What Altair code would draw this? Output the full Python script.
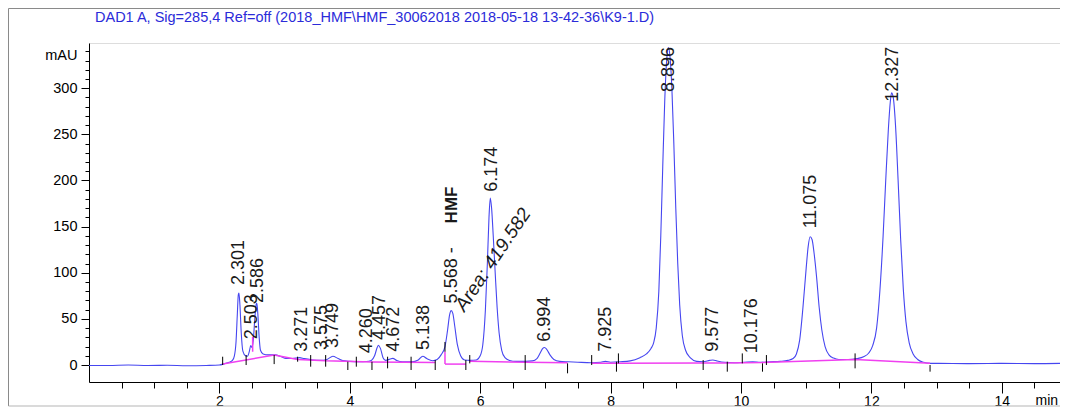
import altair as alt
import pandas as pd

# ---------------- data ----------------
trace_t = [0.0, 0.3, 0.6, 0.9, 1.2, 1.5, 1.8, 2.0, 2.08, 2.15, 2.20, 2.23, 2.255, 2.275, 2.29, 2.30,
           2.315, 2.335, 2.36, 2.40, 2.43, 2.46, 2.48, 2.50, 2.52, 2.545, 2.565, 2.575, 2.59, 2.61,
           2.63, 2.67, 2.75, 2.85, 2.95, 3.02, 3.12, 3.23, 3.30, 3.43, 3.55, 3.65, 3.74, 3.82, 3.89,
           4.0, 4.15, 4.25, 4.33, 4.38, 4.42, 4.44, 4.47, 4.51, 4.55, 4.62, 4.66, 4.72, 4.81, 4.95,
           5.05, 5.12, 5.18, 5.27, 5.34, 5.40, 5.46, 5.50, 5.53, 5.555, 5.58, 5.61, 5.65, 5.70, 5.76,
           5.85, 5.94, 6.00, 6.04, 6.08, 6.11, 6.135, 6.155, 6.175, 6.20, 6.23, 6.26, 6.29, 6.33,
           6.38, 6.45, 6.55, 6.70, 6.80, 6.87, 6.92, 6.96, 6.985, 7.02, 7.07, 7.13, 7.22, 7.35, 7.5,
           7.7, 7.85, 7.92, 8.0, 8.15, 8.3, 8.45, 8.55, 8.62, 8.66, 8.70, 8.74, 8.77, 8.80, 8.83,
           8.86, 8.885, 8.91, 8.94, 8.97, 9.00, 9.03, 9.06, 9.10, 9.15, 9.22, 9.32, 9.42, 9.52, 9.57,
           9.63, 9.75, 9.9, 10.05, 10.18, 10.3, 10.45, 10.6, 10.72, 10.80, 10.85, 10.90, 10.95, 11.00,
           11.03, 11.06, 11.09, 11.12, 11.16, 11.20, 11.24, 11.29, 11.35, 11.42, 11.5, 11.65, 11.78,
           11.88, 11.96, 12.02, 12.08, 12.13, 12.18, 12.22, 12.26, 12.29, 12.31, 12.335, 12.37, 12.41,
           12.45, 12.49, 12.53, 12.58, 12.64, 12.71, 12.80, 12.90, 13.0, 13.5, 14.0, 14.5, 14.9]
trace_v = [-0.5, -0.5, 0, -0.5, -0.3, -0.8, -0.5, 0, 1.5, 3, 5, 10, 25, 55, 76, 78,
           65, 35, 15, 10, 9.5, 15, 21, 19, 27, 52, 66, 67, 55, 30,
           16, 12, 11, 11, 9, 7, 7, 8, 7, 5.5, 5, 6, 9.5, 7, 4.8,
           4, 3.6, 3.8, 5, 10, 19, 21.5, 18, 8, 5, 6.5, 7.2, 5, 3.6, 3.5,
           5.5, 9.5, 7, 4.7, 6, 11, 20, 38, 54, 59, 56, 42, 22, 10, 5.5,
           5, 5.5, 10, 22, 60, 110, 160, 181, 170, 140, 100, 62, 35, 16,
           8, 5, 4, 4, 4.5, 7, 13, 18, 19, 17, 11, 6, 4, 3.5, 3,
           2.5, 3, 4, 3, 3.5, 4.5, 8, 12, 18, 24, 40, 80, 140, 215, 285,
           330, 344, 335, 300, 240, 170, 110, 65, 32, 16, 8, 4, 3.5, 5, 5.5,
           4.5, 3, 2.5, 3, 3.5, 3, 3.5, 4, 5, 7, 12, 27, 62, 105,
           128, 139, 136, 122, 95, 62, 38, 20, 11, 7.5, 6, 6, 7,
           9, 13, 21, 40, 80, 140, 200, 255, 285, 295, 290, 260, 200,
           135, 82, 47, 24, 12, 6, 3, 1.8, 1.8, 1.5, 1.8, 1.5, 1.8]

# integration baselines (magenta)
base_seg = ["A", "A", "B", "B", "B", "B", "B", "C", "C", "D", "D", "D",
            "E", "E", "E", "E", "E", "E", "E"]
base_t = [2.05, 2.84, 2.84, 3.20, 3.63, 4.34, 5.31, 5.46, 5.78, 5.84, 6.69, 7.34,
          7.71, 8.10, 9.42, 9.79, 10.33, 11.75, 12.90]
base_v = [1, 10.8, 10.8, 6, 4.5, 3.2, 2.8, 1, 1, 4, 3, 2.5,
          2, 2, 2.2, 2.2, 2.6, 6, 1.8]

# magenta drop lines
drop_t = [2.51, 5.46]
drop_lo = [14.4, 1]
drop_hi = [30.7, 14.4]

# integration event ticks (black)
evt_t = [2.05, 2.41, 2.84, 3.20, 3.40, 3.63, 3.97, 4.10, 4.34, 4.58, 4.94, 5.31, 5.46, 5.78,
         5.84, 6.69, 7.34, 7.71, 8.09, 8.12, 9.42, 9.79, 10.02, 10.33, 10.39, 11.75, 12.90]
evt_lo = [0, 0, 1, 3.6, -1.8, -1.8, -5.4, -1.8, -5.4, -3.6, -5.4, -5.4, 14.4, -5.4,
          1.8, -5.4, -9, 0, -7.2, 1.8, -5.4, -7.2, 1.8, -7.2, 0, -3.6, -7.2]
evt_hi = [9, 10.8, 10.8, 9, 10.8, 10.8, 3.6, 9, 3.6, 9, 9, 5.4, 25, 5.4,
          10.8, 10.8, 1.8, 10.8, 3.6, 12.6, 5.4, 3.6, 12.6, 1.8, 10.8, 12.6, 0]

# peak labels (retention time, height where the label starts)
peak_label = ["2.301", "2.503", "2.586", "3.271", "3.575", "3.749", "4.260", "4.457", "4.672",
              "5.138", "5.568 -", "6.174", "6.994", "7.925", "8.896", "9.577", "10.176",
              "11.075", "12.327"]
peak_rt = [2.301, 2.503, 2.586, 3.271, 3.575, 3.749, 4.260, 4.457, 4.672,
           5.138, 5.568, 6.174, 6.994, 7.925, 8.896, 9.577, 10.176, 11.075, 12.327]
label_v = [86.7, 27.8, 67.2, 14.4, 16.3, 18.4, 12.7, 27.1, 14.4,
           16.3, 66.8, 187.8, 25.2, 14.4, 295.8, 14.4, 12.7, 148.1, 285.3]

hmf_text = ["HMF"]
hmf_t = [5.568]
hmf_v = [153.5]

area_text = ["Area: 419.582"]
area_t = [5.76]
area_v = [57]

title_text = r"DAD1 A, Sig=285,4 Ref=off (2018_HMF\HMF_30062018 2018-05-18 13-42-36\K9-1.D)"

x_ticks = [0.5 * i for i in range(1, 30)]
y_ticks = list(range(0, 341, 10))

# ---------------- chart ----------------
W, H = 971, 339
FONT = "Liberation Sans"
BLUE = "#4646f0"
MAG = "#f040f0"
FRAME = "#8a8a8a"

xs = alt.Scale(domain=[0, 14.893], nice=False, zero=False)
ys = alt.Scale(domain=[-18.4, 349], nice=False, zero=False)

trace_df = pd.DataFrame({"t": trace_t, "v": trace_v})
base_df = pd.DataFrame({"t": base_t, "v": base_v, "seg": base_seg})
drop_df = pd.DataFrame({"t": drop_t, "v": drop_lo, "v2": drop_hi})
evt_df = pd.DataFrame({"t": evt_t, "v": evt_lo, "v2": evt_hi})
lab_df = pd.DataFrame({"t": peak_rt, "v": label_v, "label": peak_label})
hmf_df = pd.DataFrame({"t": hmf_t, "v": hmf_v, "label": hmf_text})
area_df = pd.DataFrame({"t": area_t, "v": area_v, "label": area_text})

x_axis = alt.Axis(
    values=x_ticks,
    labelExpr="datum.value % 2 === 0 ? format(datum.value, 'd') : ''",
    tickSize={"condition": {"test": "datum.value % 2 === 0", "value": 11}, "value": 6},
    labelOverlap=False, labelFlush=False, labelPadding=1,
    title="min", titleX=946, titleY=18, titleAlign="left", titleBaseline="middle",
    titleFontWeight="normal", titleFontSize=14, titleFont=FONT,
    grid=False, domainColor="black", tickColor="black", labelColor="black",
    labelFont=FONT, labelFontSize=14,
)
y_axis = alt.Axis(
    values=y_ticks,
    labelExpr="datum.value % 50 === 0 ? format(datum.value, 'd') : ''",
    tickSize={"condition": {"test": "datum.value % 50 === 0", "value": 8}, "value": 4},
    labelOverlap=False, labelFlush=False, labelPadding=4,
    title="mAU", titleAngle=0, titleX=-12, titleY=12, titleAlign="right",
    titleBaseline="middle", titleFontWeight="normal", titleFontSize=14.5, titleFont=FONT,
    grid=False, domainColor="black", tickColor="black", labelColor="black",
    labelFont=FONT, labelFontSize=14.5,
)

one = alt.Data(values=[{}])
frame_top = alt.Chart(one).mark_rule(color=FRAME, strokeWidth=1).encode(
    x=alt.value(-80.5), x2=alt.value(W), y=alt.value(-34.5))
frame_left = alt.Chart(one).mark_rule(color=FRAME, strokeWidth=1).encode(
    x=alt.value(-80.5), y=alt.value(-34.5), y2=alt.value(363))
frame_bottom = alt.Chart(one).mark_rule(color="#b5b5b5", strokeWidth=1).encode(
    x=alt.value(-80.5), x2=alt.value(W), y=alt.value(363))

title = alt.Chart(alt.Data(values=[{"label": title_text}])).mark_text(
    align="left", baseline="middle", font=FONT, fontSize=14.5, color="#2b2bd9"
).encode(x=alt.value(6), y=alt.value(-25), text="label:N")

trace = alt.Chart(trace_df).mark_line(color=BLUE, strokeWidth=1.1, interpolate="monotone")

baseline = alt.Chart(base_df).mark_line(color=MAG, strokeWidth=1.5).encode(detail="seg:N")

drops = alt.Chart(drop_df).mark_rule(color=MAG, strokeWidth=1.5).encode(y2="v2:Q")

events = alt.Chart(evt_df).mark_rule(color="black", strokeWidth=1).encode(y2="v2:Q")

labels = alt.Chart(lab_df).mark_text(
    angle=270, align="left", baseline="middle", font=FONT, fontSize=18, color="#1a1a1a"
).encode(text="label:N")

hmf = alt.Chart(hmf_df).mark_text(
    angle=270, align="left", baseline="middle", font=FONT, fontSize=17, fontWeight="bold",
    color="#1a1a1a"
).encode(text="label:N")

area = alt.Chart(area_df).mark_text(
    angle=304, align="left", baseline="alphabetic", font=FONT, fontSize=19, fontStyle="italic",
    color="#1a1a1a"
).encode(text="label:N")

chart = alt.layer(
    trace, baseline, drops, events, labels, hmf, area,
    frame_top, frame_left, frame_bottom, title
).encode(
    x=alt.X("t:Q", scale=xs, axis=x_axis),
    y=alt.Y("v:Q", scale=ys, axis=y_axis),
).properties(
    width=W, height=H,
    autosize=alt.AutoSizeParams(type="none"),
    padding={"left": 81, "top": 35, "right": 0, "bottom": 27},
).configure_view(stroke=None).configure(background="white")

chart.save("out.html", embed_options={"renderer": "svg", "actions": False})
